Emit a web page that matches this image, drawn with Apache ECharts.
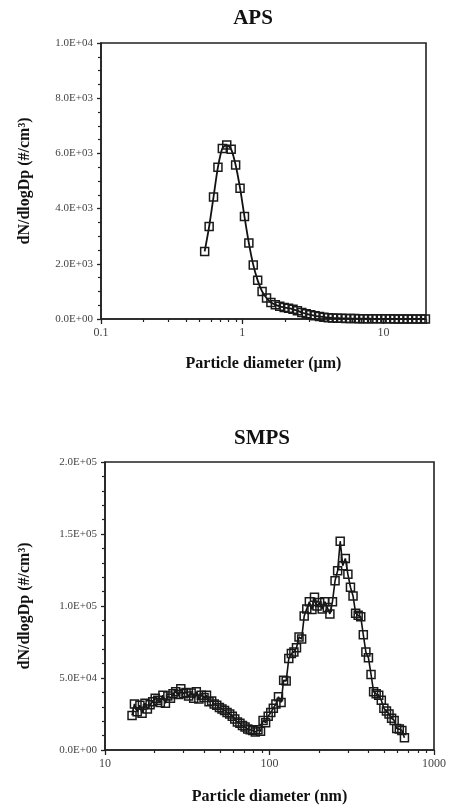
<!DOCTYPE html>
<html>
<head>
<meta charset="utf-8">
<script src="https://cdn.jsdelivr.net/npm/echarts@6/dist/echarts.min.js"></script>
<style>
html,body{margin:0;padding:0;background:#fff;}
#chart{width:452px;height:809px;}
</style>
</head>
<body>
<div id="chart"></div>
<script>
// APS: particle diameter (µm) and dN/dlogDp (#/cm3)
const apsDiameter = [0.542,0.583,0.626,0.673,0.723,0.777,0.835,0.898,0.965,1.037,1.114,1.197,1.286,1.382,1.486,1.596,1.715,1.843,1.981,2.129,2.288,2.458,2.642,2.839,3.051,3.278,3.523,3.786,4.068,4.371,4.698,5.048,5.425,5.829,6.264,6.732,7.234,7.774,8.354,8.977,9.647,10.37,11.14,11.97,12.86,13.82,14.86,15.96,17.15,18.43,19.81];
const apsValues = [2450,3350,4420,5500,6180,6300,6150,5580,4740,3710,2750,1960,1400,1000,760,600,520,460,420,390,350,300,235,190,150,115,90,65,48,38,30,25,20,17,14,12,10,9,8,7,6,5,5,4,4,3,3,3,2,2,2];

// SMPS: particle diameter (nm) and dN/dlogDp (#/cm3)
const smpsDiameter = [14.6,15.1,15.7,16.3,16.8,17.5,18.1,18.8,19.5,20.2,20.9,21.7,22.5,23.3,24.1,25.0,25.9,26.9,27.9,28.9,30.0,31.1,32.2,33.4,34.6,35.9,37.2,38.5,40.0,41.4,42.9,44.5,46.1,47.8,49.6,51.4,53.3,55.2,57.3,59.4,61.5,63.8,66.1,68.5,71.0,73.7,76.4,79.1,82.0,85.1,88.2,91.4,94.7,98.2,101.8,105.5,109.4,113.4,117.6,121.9,126.3,131.0,135.8,140.7,145.9,151.2,156.8,162.5,168.5,174.7,181.1,187.7,194.6,201.7,209.1,216.7,224.7,232.9,241.4,250.3,259.5,269.0,278.8,289.0,299.6,310.6,322.0,333.8,346.0,358.7,371.8,385.4,399.5,414.2,429.4,445.1,461.4,478.3,495.8,514.0,532.8,552.3,572.5,593.5,615.3,637.8,661.2];
const smpsValues = [24000,32000,26500,31000,25500,32500,28500,31500,33500,36000,34500,33000,38000,32500,37500,36000,39000,40500,38500,42500,39000,40000,37500,39500,36000,40500,35500,38000,36500,38000,33500,34000,32000,31000,29500,28500,27500,26000,25000,23500,21500,19500,18500,17000,16000,14500,14000,13500,12500,14000,13000,20500,19000,23500,26000,29000,32000,37000,33000,48500,48000,63500,67000,68000,71000,78500,77000,93000,98000,103000,97500,106000,100000,102500,98000,103000,99000,94500,103000,117500,124500,145000,128000,133000,122000,113000,107000,95000,93500,92500,80000,68000,64000,52500,40500,39000,38000,34500,29000,27000,25000,22000,20500,15000,14500,13500,8500];

// Axis tick values
const apsMinorTicks = [0.2,0.3,0.4,0.5,0.6,0.7,0.8,0.9,2,3,4,5,6,7,8,9];
const smpsMinorTicks = [20,30,40,50,60,70,80,90,200,300,400,500,600,700,800,900];

const FONT = "'Liberation Serif','Times New Roman',serif";
const INK = '#111';

function sciLabel(v){
  if (v === 0) return '0.0E+00';
  const e = Math.floor(Math.log10(v) + 1e-9);
  const m = v / Math.pow(10, e);
  return m.toFixed(1) + 'E' + (e < 0 ? '-' : '+') + String(Math.abs(e)).padStart(2, '0');
}
function logLabel(v){
  const l = Math.log10(v);
  if (Math.abs(l - Math.round(l)) > 1e-6) return '';
  return String(+Math.pow(10, Math.round(l)).toPrecision(6));
}

function mainX(gridIndex, min, max, name, gap){
  return {
    type: 'log', logBase: 10, gridIndex, min, max,
    name, nameLocation: 'middle', nameGap: gap,
    nameTextStyle: {fontFamily: FONT, fontWeight: 'bold', fontSize: 16, color: INK},
    axisLine: {show: true, onZero: false, lineStyle: {color: '#222', width: 1.6}},
    axisTick: {show: true, inside: false, length: 5, lineStyle: {color: '#222', width: 1.3}},
    axisLabel: {fontFamily: FONT, fontSize: 12, color: '#444', margin: 8, formatter: logLabel},
    splitLine: {show: false}, minorTick: {show: false}
  };
}
function minorX(gridIndex, min, max, ticks){
  return {
    type: 'log', logBase: 10, gridIndex, min, max, position: 'bottom',
    axisLine: {show: false},
    axisTick: {show: true, inside: false, length: 3, customValues: ticks, lineStyle: {color: '#222', width: 1.2}},
    axisLabel: {show: false},
    splitLine: {show: false}
  };
}
function mainY(gridIndex, max, interval, minorSplit, gap){
  return {
    type: 'value', gridIndex, min: 0, max, interval,
    name: 'dN/dlogDp (#/cm³)', nameLocation: 'middle', nameGap: gap,
    nameTextStyle: {fontFamily: FONT, fontWeight: 'bold', fontSize: 16, color: INK},
    axisLine: {show: true, lineStyle: {color: '#222', width: 1.6}},
    axisTick: {show: true, inside: false, length: 4, lineStyle: {color: '#222', width: 1.3}},
    minorTick: {show: true, splitNumber: minorSplit, length: 3, lineStyle: {color: '#222', width: 1.2}},
    axisLabel: {fontFamily: FONT, fontSize: 11, color: '#444', margin: 8, formatter: sciLabel},
    splitLine: {show: false}
  };
}

const markerStyle = {color: 'rgba(255,255,255,0)', borderColor: '#1a1a1a', borderWidth: 1.5};

const option = {
  animation: false,
  backgroundColor: '#fff',
  title: [
    {text: 'APS', left: 248, top: 3, textAlign: 'center',
     textStyle: {fontFamily: FONT, fontWeight: 'bold', fontSize: 21, color: INK}},
    {text: 'SMPS', left: 257, top: 423, textAlign: 'center',
     textStyle: {fontFamily: FONT, fontWeight: 'bold', fontSize: 21, color: INK}}
  ],
  grid: [
    {left: 101, top: 43, width: 325, height: 276, show: true, borderColor: '#222', borderWidth: 1.6, backgroundColor: 'transparent'},
    {left: 105, top: 462, width: 329, height: 288, show: true, borderColor: '#222', borderWidth: 1.6, backgroundColor: 'transparent'}
  ],
  xAxis: [
    mainX(0, 0.1, 20, 'Particle diameter (µm)', 37),
    minorX(0, 0.1, 20, apsMinorTicks),
    mainX(1, 10, 1000, 'Particle diameter (nm)', 39),
    minorX(1, 10, 1000, smpsMinorTicks)
  ],
  yAxis: [
    mainY(0, 10000, 2000, 4, 68),
    mainY(1, 200000, 50000, 5, 72)
  ],
  series: [
    {
      type: 'line', xAxisIndex: 0, yAxisIndex: 0,
      data: apsDiameter.map((d, i) => [d, apsValues[i]]),
      symbol: 'rect', symbolSize: 8, showAllSymbol: true, smooth: 0.25,
      itemStyle: markerStyle,
      lineStyle: {color: INK, width: 1.8}
    },
    {
      type: 'line', xAxisIndex: 2, yAxisIndex: 1,
      data: smpsDiameter.map((d, i) => [d, smpsValues[i]]),
      symbol: 'rect', symbolSize: 8, showAllSymbol: true,
      itemStyle: markerStyle,
      lineStyle: {color: INK, width: 1.6}
    }
  ]
};

const chart = echarts.init(document.getElementById('chart'), null, {renderer: 'canvas'});
chart.setOption(option);
</script>
</body>
</html>
